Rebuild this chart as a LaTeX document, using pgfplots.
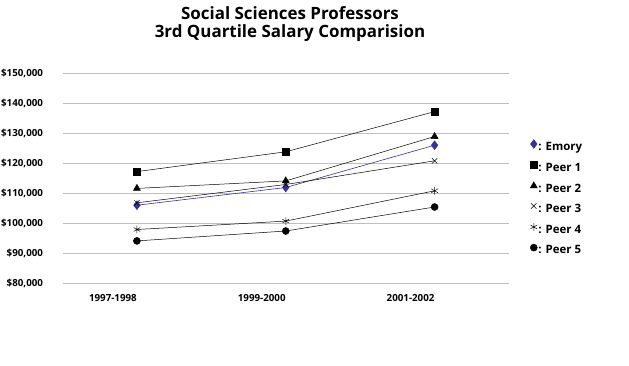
\documentclass[border=0pt]{standalone}
\usepackage{pgfplots}
\pgfplotsset{compat=1.18}
\usepackage{fontspec}
\setmainfont{Open Sans}
\definecolor{emory}{HTML}{333399}
\definecolor{gridc}{HTML}{BEBEBE}
\begin{document}
\begin{tikzpicture}[x=1bp,y=1bp]
\useasboundingbox (0,0) rectangle (629,365);
\node[anchor=base, font=\bfseries\fontsize{17}{19}\selectfont] at (290,346) {Social Sciences Professors};
\node[anchor=base, font=\bfseries\fontsize{17}{19}\selectfont] at (290,328) {3rd Quartile Salary Comparision};
\begin{axis}[
  at={(62.5bp,81.5bp)}, anchor=south west,
  scale only axis, width=446.5bp, height=210bp,
  xmin=-0.5, xmax=2.5, ymin=80000, ymax=150000,
  scaled y ticks=false,
  xtick={0,1,2}, xticklabels={1997-1998,1999-2000,2001-2002},
  ytick={80000,90000,100000,110000,120000,130000,140000,150000},
  yticklabels={{\$80,000},{\$90,000},{\$100,000},{\$110,000},{\$120,000},{\$130,000},{\$140,000},{\$150,000}},
  ymajorgrids, major grid style={gridc, line width=1.3bp},
  axis line style={draw=none}, major tick length=0pt,
  tick label style={font=\bfseries\fontsize{9.8}{11}\selectfont},
  yticklabel style={xshift=-16bp},
  xticklabel style={xshift=-24bp, yshift=-7bp},
  clip=false,
  legend style={draw=none, fill=none, at={(1,1)}, anchor=north west, xshift=18bp, yshift=-64bp,
    font=\bfseries\fontsize{11.5}{13}\selectfont, row sep=8.3bp, nodes={inner sep=1bp}},
  legend cell align=left,
  legend image code/.code={\draw[#1] plot coordinates {(0bp,3bp)};},
]
\addplot[emory, line width=0.6bp, mark=diamond*, mark size=4.3bp, mark options={fill=emory}] coordinates {(0,106100) (1,112000) (2,126100)};
\addlegendentry{: Emory}
\addplot[black, line width=0.5bp, mark=square*, mark size=3.6bp] coordinates {(0,117300) (1,123900) (2,137300)};
\addlegendentry{: Peer 1}
\addplot[black, line width=0.5bp, mark=triangle*, mark size=4bp] coordinates {(0,111700) (1,114200) (2,129000)};
\addlegendentry{: Peer 2}
\addplot[black, line width=0.5bp, mark=x, mark size=3.8bp, mark options={line width=0.5bp}] coordinates {(0,106900) (1,113000) (2,120900)};
\addlegendentry{: Peer 3}
\addplot[black, line width=0.5bp, mark=asterisk, mark size=3.8bp, mark options={line width=0.5bp}] coordinates {(0,98000) (1,100800) (2,110900)};
\addlegendentry{: Peer 4}
\addplot[black, line width=0.5bp, mark=*, mark size=3.5bp] coordinates {(0,94200) (1,97500) (2,105500)};
\addlegendentry{: Peer 5}
\end{axis}
\end{tikzpicture}
\end{document}
